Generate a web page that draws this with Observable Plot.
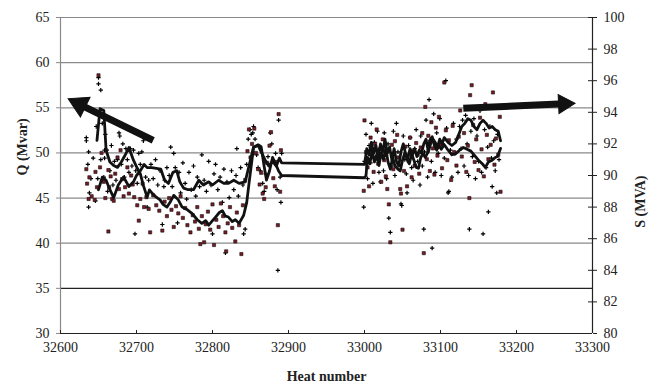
<!DOCTYPE html>
<html><head><meta charset="utf-8">
<script src="https://cdn.jsdelivr.net/npm/d3@7"></script>
<script src="https://cdn.jsdelivr.net/npm/@observablehq/plot@0.6"></script>
<style>body{margin:0;background:#fff} svg text{font-family:'Liberation Serif','Times New Roman',serif !important}</style>
</head><body><div id="chart"></div>
<script>
// Tick labels
const qTicks = [30, 35, 40, 45, 50, 55, 60, 65];
const sTicks = [80, 82, 84, 86, 88, 90, 92, 94, 96, 98, 100];
const xTicks = [32600, 32700, 32800, 32900, 33000, 33100, 33200, 33300];

// Q (Mvar) per heat: [heat number, Q]
const qPoints = [
[32634,48.2],[32635,46.6],[32637,44.9],[32638,47.3],[32641,45.2],[32645,44.8],[32646,47.9],[32648,46.2],[32650,58.6],[32652,48.4],[32654,50.0],[32656,47.0],[32657,46.8],[32659,45.0],[32663,41.3],[32663,48.1],[32664,46.2],[32666,47.4],[32668,44.9],[32670,44.7],[32672,47.7],[32675,49.5],[32677,46.0],[32679,50.3],[32681,47.1],[32683,45.2],[32685,46.2],[32688,48.4],[32690,45.5],[32693,47.5],[32695,46.5],[32697,45.1],[32701,44.2],[32703,42.5],[32705,44.9],[32708,46.6],[32710,44.0],[32713,45.1],[32716,43.8],[32718,41.2],[32722,45.3],[32726,44.2],[32730,43.6],[32734,41.4],[32737,44.6],[32740,43.0],[32743,45.0],[32746,43.7],[32749,41.8],[32752,44.1],[32755,43.3],[32758,45.2],[32761,42.8],[32764,43.9],[32767,42.0],[32771,41.2],[32774,43.1],[32777,42.4],[32780,44.0],[32782,41.6],[32784,39.9],[32786,43.0],[32789,40.1],[32791,42.1],[32794,43.5],[32797,41.5],[32800,44.3],[32802,39.8],[32805,42.6],[32808,41.8],[32811,44.4],[32814,43.0],[32817,41.2],[32818,39.1],[32820,42.2],[32823,44.0],[32826,41.7],[32830,40.2],[32832,43.4],[32835,42.0],[32838,38.8],[32840,44.2],[32843,47.0],[32846,50.2],[32848,52.6],[32850,49.5],[32852,51.0],[32855,52.7],[32857,50.0],[32860,48.2],[32862,46.5],[32864,47.8],[32866,45.5],[32868,44.9],[32870,46.2],[32872,48.9],[32875,50.8],[32877,52.3],[32880,47.2],[32882,46.3],[32884,49.0],[32886,42.0],[32887,54.3],[32889,45.7],[32890,50.3],
[32999,45.8],[33000,53.6],[33002,50.1],[33004,48.4],[33006,46.3],[33008,51.7],[33010,49.6],[33012,47.9],[33014,51.0],[33016,52.6],[33018,48.8],[33020,50.4],[33022,46.8],[33024,51.5],[33026,49.2],[33028,47.4],[33030,46.0],[33032,44.3],[33034,40.1],[33036,50.9],[33038,48.2],[33040,51.3],[33043,52.0],[33045,49.5],[33047,46.0],[33048,45.5],[33050,41.5],[33052,48.0],[33054,50.7],[33056,46.3],[33058,49.1],[33060,51.7],[33062,47.3],[33064,50.2],[33066,48.6],[33068,51.1],[33070,49.8],[33072,47.7],[33074,50.6],[33076,52.2],[33078,38.9],[33080,55.1],[33082,49.3],[33084,51.9],[33086,48.0],[33088,53.4],[33090,50.5],[33092,47.6],[33094,52.8],[33096,49.7],[33098,54.0],[33100,50.9],[33102,48.3],[33105,57.8],[33107,52.5],[33109,49.2],[33111,51.4],[33114,47.0],[33116,53.0],[33118,50.1],[33121,48.6],[33124,51.8],[33126,54.7],[33128,49.6],[33131,52.2],[33134,47.9],[33136,50.8],[33138,45.0],[33139,56.4],[33141,57.5],[33143,53.1],[33145,49.0],[33147,51.5],[33150,48.1],[33152,53.9],[33154,50.4],[33157,47.4],[33159,55.4],[33161,52.0],[33163,49.3],[33166,50.9],[33169,56.7],[33171,48.7],[33173,51.6],[33176,49.8],[33178,54.0],[33179,45.7]
];

// S (MVA) per heat: [heat number, S]
const sPoints = [
[32634,92.4],[32634,92.2],[32636,90.7],[32637,91.5],[32637,88.0],[32638,88.9],[32640,89.8],[32643,91.1],[32646,88.4],[32647,93.1],[32649,89.8],[32650,96.2],[32650,95.8],[32653,95.4],[32653,91.0],[32655,93.3],[32657,89.9],[32658,91.1],[32658,91.6],[32659,92.6],[32661,91.6],[32662,89.0],[32665,90.3],[32667,91.9],[32669,89.4],[32671,90.9],[32673,89.7],[32675,91.0],[32677,92.7],[32678,92.5],[32680,90.7],[32682,92.0],[32684,89.9],[32686,91.7],[32688,91.0],[32690,90.2],[32692,91.7],[32694,90.6],[32696,91.6],[32698,86.3],[32699,90.3],[32701,89.5],[32703,91.4],[32705,90.7],[32707,91.5],[32709,92.2],[32710,92.4],[32712,89.9],[32714,88.0],[32716,89.7],[32719,90.7],[32722,89.8],[32725,91.0],[32728,89.4],[32731,90.3],[32734,86.9],[32736,89.3],[32737,89.7],[32740,90.5],[32743,90.0],[32745,91.8],[32747,89.3],[32749,91.4],[32751,90.5],[32754,87.0],[32756,90.2],[32758,88.9],[32761,90.8],[32764,89.5],[32766,88.5],[32769,90.2],[32772,89.1],[32775,90.6],[32778,88.7],[32780,89.9],[32783,89.3],[32786,91.3],[32789,89.7],[32792,89.0],[32795,90.9],[32798,89.4],[32800,86.3],[32802,90.1],[32804,90.7],[32807,89.1],[32810,89.9],[32813,88.3],[32815,90.4],[32817,85.1],[32819,89.6],[32822,88.6],[32825,90.3],[32828,89.1],[32831,90.0],[32832,91.7],[32834,88.7],[32837,90.5],[32840,89.4],[32841,86.3],[32843,86.6],[32845,90.7],[32847,92.3],[32849,92.9],[32851,92.6],[32853,92.7],[32854,93.1],[32856,92.3],[32858,91.3],[32860,90.5],[32863,90.3],[32866,89.5],[32868,89.0],[32870,90.1],[32873,91.2],[32876,92.7],[32878,92.0],[32880,90.9],[32883,91.4],[32885,89.1],[32886,84.0],[32887,93.5],[32889,89.9],[32890,88.3],[32891,91.4],
[32999,88.0],[33000,90.9],[33002,92.6],[33004,89.8],[33006,91.9],[33008,90.8],[33009,93.3],[33011,89.5],[33013,92.1],[33015,91.1],[33017,92.8],[33019,90.2],[33021,89.6],[33023,91.6],[33025,90.3],[33026,92.7],[33028,91.3],[33029,89.8],[33031,92.0],[33032,87.3],[33034,86.4],[33036,90.6],[33038,92.8],[33040,90.0],[33042,93.3],[33044,91.5],[33046,90.7],[33048,88.2],[33049,88.1],[33051,92.5],[33053,91.0],[33055,90.1],[33056,88.9],[33058,91.9],[33060,92.4],[33062,90.5],[33064,89.7],[33066,91.7],[33068,92.9],[33070,90.9],[33073,89.4],[33074,92.5],[33076,90.6],[33078,86.6],[33079,91.5],[33081,93.5],[33083,89.9],[33085,94.8],[33086,92.2],[33088,90.9],[33089,85.4],[33091,93.9],[33093,90.2],[33095,92.7],[33097,91.4],[33099,93.6],[33101,90.0],[33103,92.0],[33105,91.1],[33107,96.0],[33108,93.0],[33110,88.9],[33111,89.0],[33113,91.6],[33115,89.9],[33117,93.3],[33119,91.4],[33121,92.3],[33123,90.2],[33125,93.1],[33127,91.7],[33129,93.5],[33131,90.6],[33133,93.8],[33135,92.0],[33137,90.0],[33138,86.6],[33140,92.8],[33142,91.2],[33144,93.6],[33146,89.8],[33148,92.5],[33150,90.9],[33152,94.1],[33154,90.2],[33156,86.3],[33158,92.9],[33160,90.5],[33162,91.8],[33163,87.7],[33165,93.1],[33167,91.1],[33168,89.3],[33170,92.2],[33172,90.3],[33174,88.9],[33175,92.6],[33177,91.0]
];

// Moving averages
const qLine = [
[32648,51.4],[32652,54.9],[32657,54.7],[32660,50.3],[32665,49.0],[32670,48.6],[32675,48.4],[32680,49.0],[32684,49.6],[32690,50.6],[32696,49.2],[32701,48.3],[32705,47.7],[32709,46.4],[32714,45.1],[32717,45.9],[32721,45.5],[32726,45.1],[32731,44.8],[32735,44.3],[32740,44.0],[32744,44.5],[32749,45.3],[32755,44.8],[32760,44.0],[32767,43.7],[32773,43.3],[32780,42.6],[32786,42.2],[32791,42.5],[32795,42.0],[32800,42.5],[32804,42.9],[32809,43.4],[32813,43.6],[32817,43.0],[32821,42.9],[32826,42.4],[32830,42.6],[32835,42.2],[32841,43.1],[32845,44.5],[32848,46.6],[32854,50.6],[32860,50.9],[32864,50.7],[32868,48.5],[32871,47.0],[32875,48.0],[32879,49.5],[32883,48.8],[32887,48.0],[32891,47.5],
[33000,47.25],[33002,47.5],[33004,49.5],[33007,48.8],[33010,50.2],[33013,49.0],[33016,49.8],[33019,48.6],[33022,50.0],[33025,49.3],[33028,50.5],[33031,49.0],[33034,48.2],[33037,49.5],[33040,48.6],[33044,48.2],[33047,48.0],[33050,49.2],[33053,50.0],[33056,49.3],[33059,48.8],[33062,49.9],[33065,49.2],[33068,48.4],[33071,48.3],[33074,49.5],[33077,49.9],[33080,49.5],[33083,50.0],[33086,51.4],[33089,51.8],[33092,50.8],[33095,50.3],[33098,50.8],[33101,50.4],[33105,50.9],[33110,50.3],[33115,49.8],[33120,49.9],[33125,50.3],[33130,50.6],[33135,50.4],[33140,50.2],[33145,49.7],[33150,49.2],[33155,48.8],[33159,48.4],[33163,49.0],[33168,49.2],[33172,49.5],[33175,49.6],[33179,50.5]
];
const sLine = [
[32650,89.1],[32655,89.9],[32660,89.7],[32665,89.1],[32670,88.6],[32676,89.4],[32683,89.9],[32690,89.3],[32696,89.6],[32700,90.0],[32705,90.3],[32710,90.7],[32714,90.5],[32720,90.5],[32732,90.4],[32737,89.7],[32742,89.5],[32748,90.2],[32753,90.3],[32757,89.6],[32762,89.2],[32768,89.1],[32775,89.1],[32782,89.7],[32788,89.4],[32795,89.6],[32800,89.4],[32808,89.7],[32815,89.5],[32821,89.5],[32828,89.7],[32835,89.5],[32843,89.6],[32848,90.6],[32854,91.8],[32860,91.9],[32865,91.4],[32869,91.0],[32874,90.6],[32879,90.9],[32884,90.6],[32888,91.1],[32891,90.8],
[33000,90.7],[33003,91.7],[33006,91.3],[33009,92.1],[33012,91.4],[33015,91.9],[33018,91.1],[33021,92.0],[33024,91.5],[33027,92.3],[33030,91.4],[33033,91.8],[33036,91.0],[33039,91.7],[33042,90.9],[33045,90.6],[33048,91.5],[33051,92.0],[33054,91.4],[33057,91.1],[33060,91.7],[33063,91.3],[33066,91.7],[33069,91.2],[33072,91.6],[33075,91.4],[33078,92.0],[33081,92.3],[33084,91.5],[33087,92.0],[33090,92.3],[33093,92.1],[33096,91.8],[33099,92.3],[33102,92.0],[33105,92.4],[33110,92.1],[33115,91.9],[33120,92.1],[33124,92.6],[33128,93.1],[33132,93.3],[33136,93.6],[33140,93.5],[33144,93.1],[33148,92.9],[33152,93.3],[33156,93.5],[33160,93.3],[33164,93.0],[33168,93.1],[33172,92.9],[33176,92.8],[33179,92.2]
];

// Annotation arrows: tail (x1,y1) to tip (x2,y2), Q-axis data units
const arrows = [
  {x1: 32722, y1: 51.4, x2: 32610, y2: 56.0, side: 22},
  {x1: 33130, y1: 54.95, x2: 33277, y2: 55.5, side: 19}
];

const toQ = s => 30 + (s - 80) * 35 / 20;

const W = 657, H = 388, mL = 60, mR = 65, mT = 17, mB = 55;
const pw = W - mL - mR, ph = H - mT - mB;
const ink = "#222";
const fmt = d3.format("d");
const xDom = [32600, 33300], yDom = [30, 65];
const kx = pw / (xDom[1] - xDom[0]), ky = ph / (yDom[1] - yDom[0]);

// arrowhead centroid and rotation (filled triangle heads)
const heads = arrows.map(a => {
  const dx = (a.x2 - a.x1) * kx, dy = -(a.y2 - a.y1) * ky;
  const L = Math.hypot(dx, dy), ux = dx / L, uy = dy / L;
  const back = a.side / Math.sqrt(3);
  return {
    x: a.x2 - ux * back / kx, y: a.y2 + uy * back / ky,
    r: Math.sqrt((Math.sqrt(3) / 4) * a.side * a.side / Math.PI),
    rotate: Math.atan2(dy, dx) * 180 / Math.PI + 90
  };
});
const shafts = arrows.map((a, i) => ({x1: a.x1, y1: a.y1, x2: heads[i].x, y2: heads[i].y}));

const chart = Plot.plot({
  width: W, height: H,
  marginLeft: mL, marginRight: mR, marginTop: mT, marginBottom: mB,
  style: {fontFamily: "'Liberation Serif','Times New Roman',serif", fontSize: "14px", color: ink, background: "#fff", overflow: "visible"},
  x: {domain: xDom},
  y: {domain: yDom},
  r: {type: "identity"},
  marks: [
    Plot.ruleY(qTicks.filter(d => d > 35), {stroke: "#8a8a8a", strokeWidth: 1.2}),
    Plot.ruleY([35], {stroke: ink, strokeWidth: 1.2}),
    Plot.ruleY([30], {stroke: ink, strokeWidth: 1.2}),
    Plot.ruleX([32600], {stroke: "#8a8a8a", strokeWidth: 1.2}),
    Plot.ruleX([33300], {stroke: ink, strokeWidth: 1.2}),
    Plot.axisY({ticks: qTicks, tickSize: 4, tickPadding: 7, label: null, tickFormat: fmt, stroke: "#8a8a8a", fill: ink}),
    Plot.axisX({ticks: xTicks, tickSize: 0, tickPadding: 9, label: null, tickFormat: fmt, fill: ink}),
    Plot.ruleX(xTicks, {insetTop: ph - 3, stroke: ink}),
    Plot.axisY(sTicks.map(toQ), {anchor: "right", tickSize: 4, tickPadding: 7, label: null, tickFormat: q => fmt(Math.round(80 + (q - 30) * 20 / 35)), stroke: ink, fill: ink}),
    Plot.ruleY(sTicks.map(toQ), {insetLeft: pw - 4, stroke: ink}),
    Plot.dot(sPoints, {x: d => d[0], y: d => toQ(d[1]), symbol: "plus", r: 1.5, stroke: "#000", strokeWidth: 1.2}),
    Plot.dot(qPoints, {x: d => d[0], y: d => d[1], symbol: "square", r: 1.8, fill: "#7a1a24", stroke: "#111", strokeWidth: 0.6}),
    Plot.line(qLine, {x: d => d[0], y: d => d[1], stroke: "#111", strokeWidth: 2.8}),
    Plot.line(sLine, {x: d => d[0], y: d => toQ(d[1]), stroke: "#111", strokeWidth: 2.8}),
    Plot.link(shafts, {x1: "x1", y1: "y1", x2: "x2", y2: "y2", stroke: "#111", strokeWidth: 7}),
    Plot.dot(heads, {x: "x", y: "y", r: "r", rotate: "rotate", symbol: "triangle", fill: "#111", stroke: "#111", strokeWidth: 1}),
    Plot.text(["Q (Mvar)"], {frameAnchor: "left", dx: -38, rotate: -90, fontWeight: "bold", fontSize: 14, fill: ink}),
    Plot.text(["S (MVA)"], {frameAnchor: "right", dx: 48, rotate: -90, fontWeight: "bold", fontSize: 14, fill: ink}),
    Plot.text(["Heat number"], {frameAnchor: "bottom", dy: 47, fontWeight: "bold", fontSize: 14, fill: ink})
  ]
});
document.getElementById("chart").appendChild(chart);
</script>
</body></html>
